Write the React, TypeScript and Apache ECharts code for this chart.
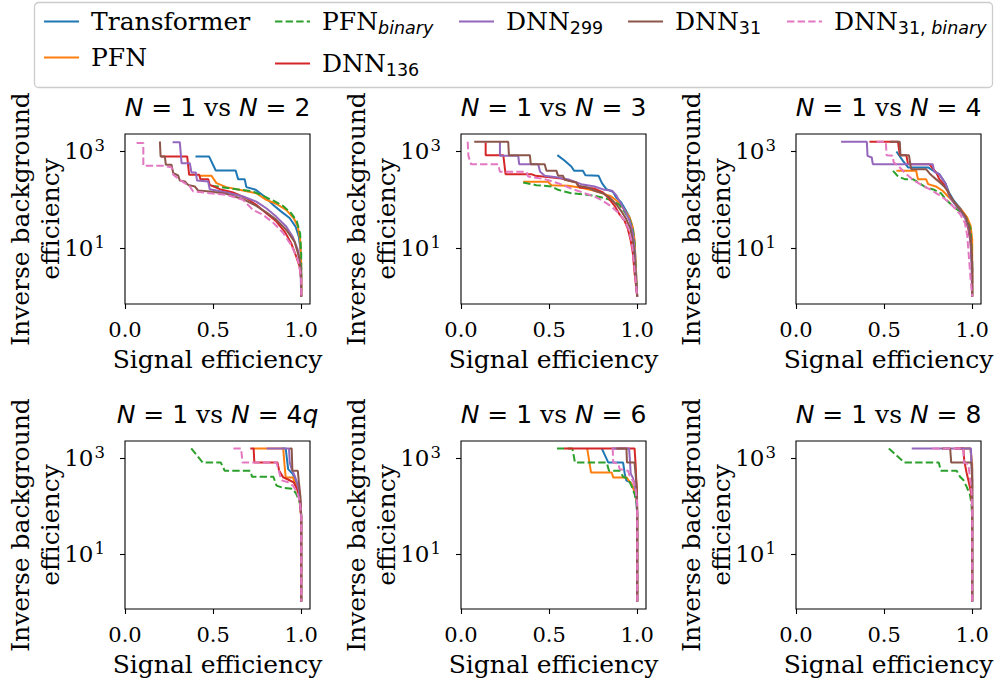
import React, { useEffect, useRef } from "react";
import * as echarts from "echarts";

// ---------------- data ----------------
const seriesNames = ["Transformer", "PFN", "PFN_binary", "DNN_136", "DNN_299", "DNN_31", "DNN_31_binary"];
const seriesColors = ["#1f77b4", "#ff7f0e", "#2ca02c", "#d62728", "#9467bd", "#8c564b", "#e377c2"];
const seriesDashed = [false, false, true, false, false, false, true];
const panelN = ["2", "3", "4", "4q", "6", "8"];
const xTickValues = [0, 0.5, 1.0];
const yTickValues = [10, 1000];
const xRange = [0, 1.05];
const yRange = [0.7, 2300];

// Panel N=2
const p1Transformer = [[0.40,790],[0.477,790],[0.515,404],[0.628,404],[0.642,268],[0.679,268],[0.689,183],[0.742,161],[0.792,117],[0.840,79],[0.887,57],[0.934,42],[0.968,28],[0.987,17],[0.996,9.2],[1.0,3.6],[1.0,1]];
const p1PFN = [[0.425,314],[0.491,314],[0.519,221],[0.575,183],[0.670,156],[0.745,137],[0.802,100],[0.858,83],[0.915,62],[0.957,42],[0.981,28],[0.994,15],[1.0,4.9],[1.0,1]];
const p1PFNb = [[0.491,195],[0.632,166],[0.726,149],[0.783,121],[0.840,97],[0.896,75],[0.943,53],[0.975,36],[0.994,20],[1.0,7.9],[1.0,1]];
const p1DNN136 = [[0.205,790],[0.353,790],[0.364,329],[0.421,329],[0.428,268],[0.472,268],[0.481,204],[0.538,166],[0.613,142],[0.689,108],[0.745,79],[0.802,53],[0.858,36],[0.906,22],[0.943,12.7],[0.972,6.7],[0.991,4.2],[1.0,2.2],[1.0,1]];
const p1DNN299 = [[0.270,1560],[0.311,1560],[0.321,574],[0.368,574],[0.377,368],[0.402,368],[0.409,251],[0.472,240],[0.481,166],[0.575,142],[0.670,117],[0.745,92],[0.802,67],[0.858,45],[0.915,28],[0.953,17],[0.981,9.2],[0.996,4.2],[1.0,1]];
const p1DNN31 = [[0.198,1610],[0.202,790],[0.226,790],[0.232,530],[0.264,530],[0.274,356],[0.302,319],[0.311,251],[0.340,240],[0.358,204],[0.396,189],[0.415,156],[0.481,149],[0.575,133],[0.670,103],[0.745,75],[0.802,55],[0.858,39],[0.915,24],[0.962,13.7],[0.987,6.7],[1.0,3],[1.0,1]];
const p1DNN31b = [[0.066,1490],[0.104,1490],[0.104,505],[0.217,505],[0.264,474],[0.274,329],[0.311,259],[0.368,189],[0.387,149],[0.481,137],[0.575,127],[0.670,100],[0.726,62],[0.783,49],[0.840,34],[0.896,21],[0.943,11.7],[0.981,5.7],[1.0,2.6],[1.0,1]];

// Panel N=3
const p2Transformer = [[0.547,840],[0.589,641],[0.626,490],[0.642,398],[0.692,398],[0.706,324],[0.781,314],[0.800,221],[0.825,166],[0.862,147],[0.881,112],[0.909,88],[0.932,64],[0.957,43],[0.975,25],[0.985,13],[0.991,5],[1.0,1]];
const p2PFN = [[0.353,236],[0.494,236],[0.513,201],[0.608,195],[0.683,177],[0.758,154],[0.815,131],[0.853,117],[0.891,91],[0.925,64],[0.957,43],[0.975,27],[0.985,15],[0.991,5],[1.0,1]];
const p2PFNb = [[0.353,229],[0.428,201],[0.513,189],[0.551,161],[0.626,137],[0.702,129],[0.758,121],[0.815,108],[0.862,95],[0.900,78],[0.928,57],[0.957,39],[0.975,25],[0.985,12],[0.991,3.7],[1.0,1]];
const p2DNN136 = [[0.140,1535],[0.140,840],[0.240,840],[0.253,340],[0.400,340],[0.423,314],[0.570,276],[0.655,229],[0.674,180],[0.758,171],[0.806,142],[0.834,112],[0.872,75],[0.900,50],[0.928,37],[0.947,25],[0.962,15],[0.975,8.1],[0.985,3.1],[1.0,1]];
const p2DNN299 = [[0.221,1585],[0.221,813],[0.325,813],[0.330,547],[0.438,547],[0.449,379],[0.475,314],[0.551,290],[0.617,259],[0.683,211],[0.758,189],[0.815,161],[0.857,154],[0.881,125],[0.906,85],[0.932,57],[0.957,37],[0.975,21],[0.985,9.5],[0.991,3.1],[1.0,1]];
const p2DNN31 = [[0.075,1585],[0.268,1585],[0.272,840],[0.391,840],[0.396,547],[0.475,547],[0.485,398],[0.542,398],[0.551,314],[0.579,314],[0.589,259],[0.655,229],[0.664,195],[0.721,180],[0.758,154],[0.806,137],[0.843,112],[0.881,81],[0.909,59],[0.938,40],[0.962,25],[0.975,14],[0.985,6.4],[0.991,2.7],[1.0,1]];
const p2DNN31b = [[0.038,1585],[0.042,813],[0.057,547],[0.211,547],[0.221,379],[0.372,379],[0.381,304],[0.475,268],[0.551,221],[0.626,171],[0.702,137],[0.758,117],[0.806,95],[0.853,73],[0.891,55],[0.925,39],[0.951,25],[0.970,13],[0.981,5],[1.0,1]];

// Panel N=4
const p3Transformer = [[0.57,1000],[0.607,641],[0.636,467],[0.75,467],[0.79,379],[0.813,340],[0.832,268],[0.850,211],[0.869,140],[0.897,95],[0.935,65],[0.963,42],[0.981,27],[0.991,14],[1.0,5],[1.0,1]];
const p3PFN = [[0.570,398],[0.682,398],[0.692,268],[0.738,268],[0.750,211],[0.794,189],[0.832,154],[0.869,112],[0.907,81],[0.944,59],[0.972,43],[0.991,29],[1.0,15],[1.0,5],[1.0,1]];
const p3PFNb = [[0.551,398],[0.579,304],[0.617,268],[0.664,268],[0.701,221],[0.738,180],[0.785,161],[0.822,137],[0.850,103],[0.879,81],[0.907,66],[0.944,53],[0.972,39],[0.991,25],[0.996,11],[1.0,3.7],[1.0,1]];
const p3DNN136 = [[0.417,1585],[0.579,1585],[0.589,840],[0.626,840],[0.636,547],[0.757,547],[0.798,356],[0.813,268],[0.847,195],[0.869,131],[0.897,88],[0.935,59],[0.963,40],[0.978,25],[0.991,13],[1.0,3.7],[1.0,1]];
const p3DNN299 = [[0.256,1585],[0.402,1585],[0.406,813],[0.430,752],[0.436,547],[0.776,547],[0.785,379],[0.813,340],[0.832,268],[0.850,211],[0.869,121],[0.897,85],[0.935,59],[0.963,40],[0.981,25],[0.991,14],[0.996,5],[1.0,1]];
const p3DNN31 = [[0.533,1585],[0.589,1585],[0.593,840],[0.641,840],[0.649,547],[0.654,431],[0.738,431],[0.757,356],[0.772,314],[0.794,268],[0.817,229],[0.841,189],[0.860,154],[0.879,112],[0.907,81],[0.935,62],[0.963,45],[0.981,29],[0.993,15],[1.0,5],[1.0,1]];
const p3DNN31b = [[0.458,1585],[0.510,1585],[0.514,840],[0.548,813],[0.555,592],[0.579,505],[0.626,340],[0.673,247],[0.720,195],[0.766,161],[0.804,131],[0.841,107],[0.879,81],[0.907,64],[0.935,48],[0.959,33],[0.972,18],[0.981,6.9],[0.991,2.3],[1.0,1]];

// Panel N=4q
const p4Transformer = [[0.89,1610],[0.912,1610],[0.926,592],[0.953,467],[0.968,340],[0.983,229],[0.994,131],[1.0,59],[1.0,1]];
const p4PFN = [[0.730,1610],[0.898,1610],[0.905,752],[0.912,398],[0.953,398],[0.965,299],[0.983,204],[0.994,121],[1.0,59],[1.0,1]];
const p4PFNb = [[0.376,1610],[0.441,813],[0.544,813],[0.566,547],[0.711,547],[0.721,411],[0.842,411],[0.860,268],[0.898,240],[0.953,229],[0.972,180],[0.991,121],[1.0,69],[1.0,1]];
const p4DNN136 = [[0.711,1610],[0.730,1610],[0.734,813],[0.866,813],[0.875,547],[0.898,398],[0.931,351],[0.957,314],[0.976,229],[0.991,142],[1.0,59],[1.0,1]];
const p4DNN299 = [[0.804,1610],[0.931,1610],[0.935,813],[0.946,592],[0.963,431],[0.976,314],[0.987,211],[0.996,121],[1.0,59],[1.0,1]];
const p4DNN31 = [[0.935,1610],[0.946,1610],[0.950,547],[0.981,547],[0.987,314],[0.996,154],[1.0,59],[1.0,1]];
const p4DNN31b = [[0.615,1610],[0.659,1610],[0.667,813],[0.860,813],[0.873,547],[0.883,398],[0.894,340],[0.926,314],[0.953,268],[0.976,195],[0.991,131],[1.0,69],[1.0,1]];

// Panel N=6
const p5Transformer = [[0.799,1610],[0.836,813],[0.920,813],[0.929,482],[0.939,340],[0.963,314],[0.980,229],[0.994,142],[1.0,69],[1.0,1]];
const p5PFN = [[0.716,1610],[0.738,505],[0.855,505],[0.864,398],[0.939,398],[0.967,290],[0.987,195],[0.998,121],[1.0,59],[1.0,1]];
const p5PFNb = [[0.545,1610],[0.632,1610],[0.647,813],[0.827,813],[0.840,547],[0.901,547],[0.920,411],[0.948,368],[0.967,268],[0.985,180],[0.998,112],[1.0,59],[1.0,1]];
const p5DNN136 = [[0.585,1610],[0.985,1610],[0.991,752],[0.994,398],[0.998,211],[1.0,59],[1.0,1]];
const p5DNN299 = [[0.855,1610],[0.954,1610],[0.959,881],[0.963,482],[0.976,385],[0.987,268],[0.996,166],[1.0,81],[1.0,1]];
const p5DNN31 = [[0.883,1610],[0.939,1610],[0.942,813],[0.985,813],[0.991,467],[0.998,229],[1.0,95],[1.0,1]];
const p5DNN31b = [[0.861,1610],[0.864,813],[0.892,776],[0.901,592],[0.948,547],[0.957,431],[0.976,340],[0.991,229],[1.0,112],[1.0,1]];

// Panel N=8
const p6Transformer = [[0.93,1610],[0.99,1610],[1.0,600],[1.0,1]];
const p6PFN = [[0.90,1610],[0.99,1610],[1.0,752],[1.0,1]];
const p6PFNb = [[0.527,1610],[0.615,813],[0.810,813],[0.823,547],[0.912,547],[0.931,411],[0.950,351],[0.968,255],[0.987,174],[0.996,112],[1.0,50],[1.0,1]];
const p6DNN136 = [[0.903,1610],[0.950,1610],[0.955,881],[0.968,505],[0.981,314],[0.993,195],[1.0,100],[1.0,1]];
const p6DNN299 = [[0.657,1610],[0.993,1610],[0.996,813],[1.0,340],[1.0,1]];
const p6DNN31 = [[0.829,1610],[0.875,1610],[0.881,813],[0.996,813],[1.0,340],[1.0,1]];
const p6DNN31b = [[0.773,1610],[0.950,1610],[0.953,813],[0.978,752],[0.987,398],[0.996,211],[1.0,81],[1.0,1]];

const panelData = [
  [p1Transformer, p1PFN, p1PFNb, p1DNN136, p1DNN299, p1DNN31, p1DNN31b],
  [p2Transformer, p2PFN, p2PFNb, p2DNN136, p2DNN299, p2DNN31, p2DNN31b],
  [p3Transformer, p3PFN, p3PFNb, p3DNN136, p3DNN299, p3DNN31, p3DNN31b],
  [p4Transformer, p4PFN, p4PFNb, p4DNN136, p4DNN299, p4DNN31, p4DNN31b],
  [p5Transformer, p5PFN, p5PFNb, p5DNN136, p5DNN299, p5DNN31, p5DNN31b],
  [p6Transformer, p6PFN, p6PFNb, p6DNN136, p6DNN299, p6DNN31, p6DNN31b],
];

// ---------------- layout ----------------
const gridLefts = [125, 461, 796];
const gridTops = [134, 441];
const gridW = 185;
const gridH = 170;

const legendLabels: Record<string, string> = {
  Transformer: "{t|Transformer}",
  PFN: "{t|PFN}",
  PFN_binary: "{t|PFN}{si|binary}",
  DNN_136: "{t|DNN}{s|136}",
  DNN_299: "{t|DNN}{s|299}",
  DNN_31: "{t|DNN}{s|31}",
  DNN_31_binary: "{t|DNN}{s|31,}{si| binary}",
};
const legendPos: Record<string, [number, number]> = {
  Transformer: [43, 24],
  PFN: [43, 60],
  PFN_binary: [274, 24],
  DNN_136: [274, 66],
  DNN_299: [458, 24],
  DNN_31: [627, 24],
  DNN_31_binary: [786, 24],
};

const serif = "DejaVu Serif";
const sans = "DejaVu Sans";

function buildOption() {
  const grids: any[] = [];
  const xAxes: any[] = [];
  const yAxes: any[] = [];
  const titles: any[] = [];
  const series: any[] = [];

  for (let p = 0; p < 6; p++) {
    const col = p % 3;
    const row = Math.floor(p / 3);
    const left = gridLefts[col];
    const top = gridTops[row];
    grids.push({
      left, top, width: gridW, height: gridH,
      show: true, borderColor: "#000", borderWidth: 1.1, backgroundColor: "transparent",
      containLabel: false,
    });
    xAxes.push({
      gridIndex: p, type: "value", min: xRange[0], max: xRange[1],
      axisLine: { show: false },
      splitLine: { show: false },
      axisTick: { show: true, length: 5, lineStyle: { color: "#000", width: 1.1 }, customValues: xTickValues },
      axisLabel: {
        customValues: xTickValues,
        formatter: (v: number) => v.toFixed(1),
        fontFamily: serif, fontSize: 21, color: "#000", margin: 13, lineHeight: 26,
      },
      name: "Signal efficiency", nameLocation: "middle", nameGap: 40, nameMoveOverlap: false,
      nameTextStyle: { fontFamily: serif, fontSize: 25, color: "#000", lineHeight: 30 },
    });
    yAxes.push({
      gridIndex: p, type: "log", logBase: 10, min: yRange[0], max: yRange[1],
      axisLine: { show: false },
      splitLine: { show: false },
      minorTick: { show: false },
      minorSplitLine: { show: false },
      axisTick: { show: true, length: 5, lineStyle: { color: "#000", width: 1.1 }, customValues: yTickValues },
      axisLabel: {
        customValues: yTickValues,
        formatter: (v: number) => `{b|10}{s|${Math.round(Math.log10(v))}}`,
        fontFamily: serif, fontSize: 23, color: "#000",
        margin: 20,
        rich: {
          b: { fontFamily: serif, fontSize: 23, color: "#000", lineHeight: 28 },
          s: { fontFamily: serif, fontSize: 16.5, color: "#000", lineHeight: 21, verticalAlign: "top", padding: [0, 0, 0, 1] },
        },
      },
      name: "Inverse background\nefficiency", nameLocation: "middle", nameRotate: 90, nameGap: 60, nameMoveOverlap: false,
      nameTextStyle: { fontFamily: serif, fontSize: 25, color: "#000", lineHeight: 30 },
    });
    const n = panelN[p];
    const right = n.endsWith("q") ? `{m| = ${n.slice(0, -1)}}{i|q}` : `{m| = ${n}}`;
    titles.push({
      text: `{i|N}{m| = 1 }{v|vs}{m| }{i|N}${right}`,
      left: left + gridW / 2, top: top - 42, textAlign: "center", padding: 0,
      textStyle: {
        fontSize: 25, color: "#000", fontWeight: "normal",
        rich: {
          i: { fontFamily: sans, fontStyle: "italic", fontWeight: "normal", fontSize: 25, lineHeight: 30, color: "#000" },
          m: { fontFamily: sans, fontWeight: "normal", fontSize: 25, lineHeight: 30, color: "#000" },
          v: { fontFamily: serif, fontWeight: "normal", fontSize: 25, lineHeight: 30, color: "#000" },
        },
      },
    });
    for (let k = 0; k < seriesNames.length; k++) {
      series.push({
        type: "line", name: seriesNames[k], xAxisIndex: p, yAxisIndex: p,
        data: panelData[p][k], symbol: "none", showSymbol: false, clip: true,
        color: seriesColors[k],
        itemStyle: { color: seriesColors[k] },
        lineStyle: { color: seriesColors[k], width: 2, type: seriesDashed[k] ? [7.4, 3.2] : "solid" },
        emphasis: { disabled: true },
      });
    }
  }

  const legends = seriesNames.map((name) => ({
    data: [name], left: legendPos[name][0], top: legendPos[name][1] - 15,
    padding: 0, itemWidth: 35, itemHeight: 14, selectedMode: false,
    itemStyle: { opacity: 0 },
    formatter: (nm: string) => legendLabels[nm],
    textStyle: {
      rich: {
        t: { fontFamily: serif, fontSize: 25, lineHeight: 30, color: "#000", padding: [0, 0, 0, 7] },
        s: { fontFamily: sans, fontSize: 17.5, lineHeight: 18, verticalAlign: "bottom", color: "#000" },
        si: { fontFamily: sans, fontStyle: "italic", fontSize: 17.5, lineHeight: 18, verticalAlign: "bottom", color: "#000" },
      },
    },
  }));

  return {
    animation: false,
    backgroundColor: "#fff",
    textStyle: { fontFamily: serif },
    title: titles,
    grid: grids,
    xAxis: xAxes,
    yAxis: yAxes,
    legend: legends,
    graphic: [
      {
        type: "rect", z: -10, silent: true,
        shape: { x: 34.5, y: 2.5, width: 958, height: 85, r: 4 },
        style: { fill: "#fff", stroke: "#cccccc", lineWidth: 1.3 },
      },
    ],
    series,
  };
}

export default function App() {
  const ref = useRef<HTMLDivElement>(null);
  useEffect(() => {
    document.body.style.margin = "0";
    if (!ref.current) return;
    const chart = echarts.init(ref.current, null, { renderer: "svg" });
    chart.setOption(buildOption() as any);
    return () => chart.dispose();
  }, []);
  return <div ref={ref} style={{ width: 1000, height: 680 }} />;
}
